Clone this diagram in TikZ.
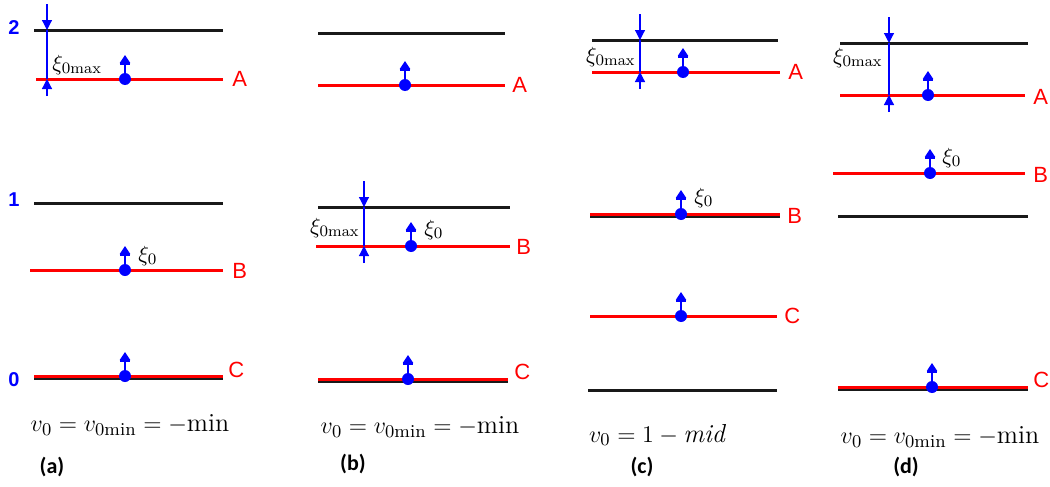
\documentclass[tikz,border=0pt]{standalone}
\usepackage{amsmath}
\usepackage{fontspec}
\setsansfont{Liberation Sans}
\newfontfamily\capfont{Carlito}
\usetikzlibrary{arrows.meta}

\begin{document}
\begin{tikzpicture}[x=0.5pt, y=-0.5pt,
  blackline/.style={line width=1.5pt, black!90},
  redline/.style={line width=1.5pt, red},
  gapline/.style={blue, line width=0.6pt},
  gaparr/.style={blue, line width=0.6pt, -{Triangle[width=5pt,length=5pt]}},
  ptarr/.style={blue, line width=0.9pt, -{Bar[width=5pt] Triangle[width=5pt,length=4pt]}},
  lvlnum/.style={blue, font=\sffamily\bfseries\fontsize{10}{12}\selectfont},
  tag/.style={red, font=\sffamily\fontsize{11}{13}\selectfont, anchor=west, inner sep=1pt},
  eq/.style={font=\fontsize{13}{15}\selectfont},
  sub/.style={font=\capfont\bfseries\fontsize{11}{13}\selectfont},
  xi/.style={font=\fontsize{11}{13}\selectfont, inner sep=1pt}
]
\useasboundingbox (0,0) rectangle (1050,487);

% (a)
\node[lvlnum] (n2) at (14,28) {2};
\node[lvlnum] (n1) at (14,200) {1};
\node[lvlnum] (n0) at (14,380) {0};
\draw[blackline] (34,30) -- (223,30);
\draw[redline] (36,79) -- (223,79);
\node[tag] (aA) at (230,79) {A};
\draw[blackline] (34,203) -- (223,203);
\draw[redline] (30,270) -- (223,270);
\node[tag] (aB) at (230,271) {B};
\draw[blackline] (34,378) -- (223,378);
\draw[redline] (34,376) -- (223,376);
\node[tag] (aC) at (226,370) {C};
\node[xi, anchor=west] (axm) at (50,65) {$\xi_{0\mathrm{max}}$};
\node[xi, anchor=west] (ax0) at (136,256) {$\xi_0$};
\node[eq] (aeq) at (130,425) {$v_0 = v_{0\mathrm{min}} = -\mathrm{min}$};
\node[sub] (asub) at (52,467) {(a)};

% (b)
\draw[blackline] (318,33) -- (505,33);
\draw[redline] (318,85) -- (505,85);
\node[tag] (bA) at (510,85) {A};
\draw[blackline] (318,207) -- (510,207);
\draw[redline] (316,246) -- (510,246);
\node[tag] (bB) at (514,247) {B};
\draw[blackline] (318,381) -- (508,381);
\draw[redline] (318,379) -- (508,379);
\node[tag] (bC) at (512,372) {C};
\node[xi, anchor=east] (bxm) at (362,228) {$\xi_{0\mathrm{max}}$};
\node[xi, anchor=west] (bx0) at (422,230) {$\xi_0$};
\node[eq] (beq) at (420,427) {$v_0 = v_{0\mathrm{min}} = -\mathrm{min}$};
\node[sub] (bsub) at (353,464) {(b)};

% (c)
\draw[blackline] (592,40) -- (778,40);
\draw[redline] (592,72) -- (780,72);
\node[tag] (cA) at (786,72) {A};
\draw[blackline] (590,216) -- (780,216);
\draw[redline] (590,214) -- (780,214);
\node[tag] (cB) at (785,216) {B};
\draw[redline] (590,316) -- (777,316);
\node[tag] (cC) at (782,316) {C};
\draw[blackline] (588,390) -- (777,390);
\node[xi, anchor=east] (cxm) at (638,57) {$\xi_{0\mathrm{max}}$};
\node[xi, anchor=west] (cx0) at (692,198) {$\xi_0$};
\node[eq] (ceq) at (657,435) {$v_0 = 1 - \mathit{mid}$};
\node[sub] (csub) at (642,467) {(c)};

% (d)
\draw[blackline] (840,43) -- (1028,43);
\draw[redline] (840,95) -- (1025,95);
\node[tag] (dA) at (1031,97) {A};
\draw[redline] (833,173) -- (1025,173);
\node[tag] (dB) at (1031,175) {B};
\draw[blackline] (838,216) -- (1028,216);
\draw[blackline] (838,389) -- (1028,389);
\draw[redline] (838,387) -- (1028,387);
\node[tag] (dC) at (1031,380) {C};
\node[xi, anchor=east] (dxm) at (885,58) {$\xi_{0\mathrm{max}}$};
\node[xi, anchor=west] (dx0) at (940,158) {$\xi_0$};
\node[eq] (deq) at (940,437) {$v_0 = v_{0\mathrm{min}} = -\mathrm{min}$};
\node[sub] (dsub) at (906,467) {(d)};

% amplitude markers
\foreach \gx/\gt/\gb in {47/30/79, 364/207/246, 640/40/72, 889/43/95} {
  \draw[gaparr] (\gx,\gt-26) -- (\gx,\gt);
  \draw[gapline] (\gx,\gt) -- (\gx,\gb);
  \draw[gaparr] (\gx,\gb+17) -- (\gx,\gb);
}

% particles
\foreach \px/\py in {125/79, 125/270, 125/376, 405/85, 411/246, 408/379,
                     683/72, 681/214, 681/316, 928/95, 930/173, 932/387} {
  \draw[ptarr] (\px,\py) -- (\px,\py-24);
  \fill[blue] (\px,\py) circle (3pt);
}
\end{tikzpicture}
\end{document}
